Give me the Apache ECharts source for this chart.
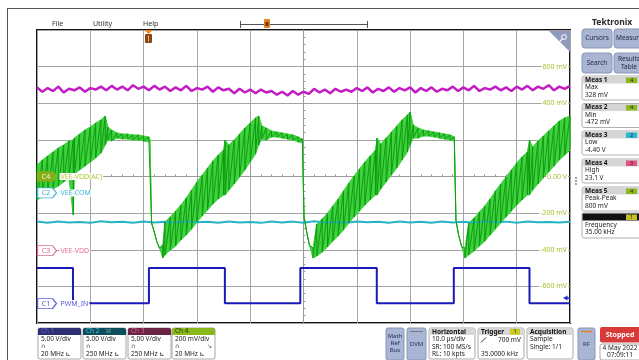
<!DOCTYPE html>
<html>
<head>
<meta charset="utf-8">
<script src="https://cdn.jsdelivr.net/npm/echarts@6.0.0/dist/echarts.min.js"></script>
<style>
html,body{margin:0;padding:0;background:#fff;}
#main{width:639px;height:360px;}
</style>
</head>
<body>
<div id="main"></div>
<script>
// ch4 VEE-VDD(AC) in mV: upper and lower edge of the noisy band, time in us
var greenT = [0,1,2,3,4,5,6,6.8,7,8,9,10,11,12,12.8,13.3,14,15,16,17,18,19,20,21,21.2,21.5,22,22.5,23,23.6,
  24,25,26,27,28,29,30,31,32,33,34,35,35.3,36,37,38,39,40,41,41.6,42.2,43,44,45,46,47,48,49,49.8,50.1,50.6,51.1,51.8,
  52.5,53.5,54.5,55.5,56.5,57.5,58.5,59.5,60.5,61.5,62.5,63.5,63.8,64.5,65.5,66.5,67.5,68.5,69.5,70,70.6,71.5,72.5,73.5,74.5,75.5,76.5,77.5,78.3,78.6,79.1,79.7,80.3,
  81,82,83,84,85,86,87,88,89,90,91,92,92.4,93,94,95,96,97,98,99,100];
var greenHi = [63,90,112,134,156,172,194,199,210,232,254,270,292,309,330,270,254,238,232,232,227,227,221,216,199,-254,-303,-358,-391,-374,
  -249,-221,-189,-156,-117,-74,-30,8,46,85,117,145,199,172,199,232,265,292,320,330,276,265,249,243,238,232,227,216,205,-221,-303,-374,-391,
  -260,-232,-200,-161,-123,-79,-36,3,41,79,112,145,210,178,210,243,276,309,336,352,281,265,254,249,243,238,232,227,216,-238,-320,-385,-391,
  -254,-227,-194,-161,-123,-79,-41,-3,36,74,107,134,199,161,194,221,249,276,303,320,330];
var greenLo = [-128,-112,-90,-68,-52,-30,-8,-210,14,36,57,79,101,128,172,199,194,210,205,205,199,199,194,189,199,-254,-303,-358,-391,-445,
  -429,-402,-380,-347,-320,-287,-249,-216,-183,-150,-123,-101,-101,-74,-41,-3,36,79,123,172,205,199,216,216,210,205,199,189,183,-221,-303,-374,-445,
  -434,-413,-385,-353,-325,-292,-254,-221,-189,-156,-128,-101,-101,-68,-30,8,46,90,134,172,210,210,221,221,216,210,205,199,194,-238,-320,-385,-445,
  -429,-407,-380,-353,-320,-287,-254,-221,-189,-156,-128,-101,-101,-74,-41,-8,25,57,90,117,145];

// ch3 VEE-VDD in V, one sample every us
var ch3Step = 1;
var ch3V = [22.3,21.7,22.2,21.8,22.4,21.6,22.1,21.9,22.3,21.7,22.2,22.0,22.4,
  21.9,22.5,22.0,22.4,21.9,22.6,22.1,22.4,21.9,22.5,22.0,
  22.4,21.8,22.3,21.9,22.5,21.8,22.2,22.0,22.4,21.7,22.3,21.9,22.1,
  21.5,22.1,21.6,22.0,21.5,22.0,21.6,
  21.8,21.3,21.7,21.2,21.8,21.3,21.7,21.4,
  22.1,21.6,22.0,21.5,22.1,21.7,22.0,
  21.7,22.2,21.8,22.3,21.6,22.1,21.8,22.3,21.7,22.2,21.9,22.3,21.6,22.2,21.8,22.3,21.7,22.1,21.9,
  22.4,21.8,22.3,21.9,22.5,21.8,22.2,22.0,22.4,21.9,22.3,21.8,22.4,
  22.0,22.5,21.9,22.4,22.1,22.6,21.9,22.4,22.1,22.5];

// ch2 VEE-COM in V, one sample every 2 us
var ch2Step = 2;
var ch2V = [-3.90,-4.05,-3.88,-4.02,-3.95,-4.08,-3.86,-4.00,-3.92,-4.06,
  -3.89,-4.03,-3.94,-4.07,-3.87,-4.01,-3.93,-4.05,-3.90,-4.04,
  -3.96,-4.08,-3.88,-4.02,-3.91,-4.06,-3.87,-4.03,-3.95,-4.05,
  -3.89,-4.01,-3.93,-4.07,-3.88,-4.04,-3.92,-4.06,-3.90,-4.02,
  -3.94,-4.08,-3.87,-4.03,-3.91,-4.05,-3.89,-4.01,-3.95,-4.04,-3.92];

// ch1 PWM_IN in V
var pwmT = [0,6.75,6.75,21.0,21.0,35.25,35.25,49.4,49.4,63.75,63.75,78.2,78.2,92.4,92.4,100];
var pwmV = [4.85,4.85,0.05,0.05,4.85,4.85,0.05,0.05,4.85,4.85,0.05,0.05,4.85,4.85,0.05,0.05];

var ch4Ticks = [-600,-400,-200,0,200,400,600];
var ch4TickText = ['-600 mV','-400 mV','-200 mV','0.00 V','200 mV','400 mV','600 mV'];

var measName = ['Meas 1','Meas 2','Meas 3','Meas 4','Meas 5'];
var measCh = ['4','4','2','3','4'];
var measType = ['Max','Min','Low','High','Peak-Peak'];
var measVal = ['328 mV','-472 mV','-4.40 V','23.1 V','800 mV'];

var chTitle = ['Ch 1','Ch 2','Ch 3','Ch 4'];
var chScale = ['5.00 V/div','5.00 V/div','5.00 V/div','200 mV/div'];
var chBw = ['20 MHz','250 MHz','250 MHz','20 MHz'];

var FONT = '"Noto Sans", "DejaVu Sans", sans-serif';
var chart = echarts.init(document.getElementById('main'));

var bandData = [], teeth = [];
for (var i = 0; i < greenT.length; i++) {
  bandData.push([greenT[i], greenHi[i], greenLo[i]]);
  teeth.push([greenT[i], greenHi[i]]);
  teeth.push([greenT[i], greenLo[i]]);
}
var ch3Data = ch3V.map(function(v, i){ return [i * ch3Step, v]; });
var ch2Data = ch2V.map(function(v, i){ return [i * ch2Step, v]; });
var pwmData = pwmT.map(function(t, i){ return [t, pwmV[i]]; });

// the whole envelope as one polygon: upper edge forward, lower edge back
function renderBand(params, api) {
  if (params.dataIndex !== 0) return null;
  var pts = [];
  for (var k = 0; k < greenT.length; k++) pts.push(api.coord([greenT[k], greenHi[k]]));
  for (var k2 = greenT.length - 1; k2 >= 0; k2--) pts.push(api.coord([greenT[k2], greenLo[k2]]));
  return {type: 'polygon', shape: {points: pts}, style: {fill: '#3ed23e', stroke: '#3ed23e', lineWidth: 1}};
}

function badge(tag, name, col, fill, tagCol, nameCol) {
  return {
    silent: true,
    animation: false,
    data: [
      {coord: [0, 0], symbol: 'path://M0 0H15L19 5L15 10H0Z', symbolSize: [19, 10], symbolOffset: [10, 0],
        itemStyle: {color: fill, borderColor: col, borderWidth: 1},
        label: {show: true, position: 'inside', formatter: tag, color: tagCol, fontSize: 7, fontFamily: FONT, offset: [-1, 0]}},
      {coord: [0, 0], symbol: 'rect', symbolSize: [1, 1], itemStyle: {color: 'rgba(0,0,0,0)'},
        label: {show: true, position: 'right', distance: 22, formatter: name, color: nameCol, fontSize: 7, fontFamily: FONT,
          backgroundColor: '#fff', padding: [0, 1]}}
    ]
  };
}

function T(x, y, s, size, color, bold, align) {
  return {type: 'text', x: x, y: y, z: 101, silent: true,
    style: {text: s, fill: color || '#222', font: (bold ? 'bold ' : '') + (size || 6.5) + 'px ' + FONT,
      align: align || 'left', verticalAlign: 'middle'}};
}
function R(x, y, w, h, fill, stroke, r) {
  return {type: 'rect', z: 100, silent: true, shape: {x: x, y: y, width: w, height: h, r: r || 0},
    style: {fill: fill || 'none', stroke: stroke || 'none', lineWidth: stroke ? 1 : 0}};
}
function L(x1, y1, x2, y2, color, w) {
  return {type: 'line', z: 100, silent: true, shape: {x1: x1, y1: y1, x2: x2, y2: y2},
    style: {stroke: color, lineWidth: w || 1}};
}
function P(pts, fill) {
  return {type: 'polygon', z: 100, silent: true, shape: {points: pts}, style: {fill: fill}};
}

var ui = [
  L(7, 8.5, 639, 8.5, '#555', 1),
  L(7.5, 8, 7.5, 360, '#555', 1),
  T(52, 24, 'File', 7, '#333'),
  T(93, 24, 'Utility', 7, '#333'),
  T(143, 24, 'Help', 7, '#333'),
  L(240, 24.5, 368, 24.5, '#555', 1),
  L(240.5, 21, 240.5, 28, '#555', 1),
  L(367.5, 21, 367.5, 28, '#555', 1),
  R(264, 19, 6, 9, '#e8801c', null, 1),
  R(265.5, 22, 3, 4, '#6b3a12'),
  P([[144, 30], [153, 30], [148.5, 34]], '#f08a1e'),
  R(145, 34, 7, 9, '#8a4512', null, 1),
  L(148.5, 35.5, 148.5, 41.5, '#f2b070', 1),
  T(592, 23, 'Tektronix', 8.5, '#2b2b2b', true),
  P([[549, 31], [570, 31], [570, 52]], '#8e9bbd'),
  {type: 'circle', z: 101, silent: true, shape: {cx: 564, cy: 37, r: 2.4}, style: {fill: 'none', stroke: '#fff', lineWidth: 1}},
  L(562.3, 38.8, 559.5, 41.8, '#fff', 1.2),
  R(582, 29, 30, 19, '#aab5d3', '#8995b4', 3), T(597, 38.5, 'Cursors', 6.5, '#1e2540', false, 'center'),
  R(614, 29, 30, 19, '#aab5d3', '#8995b4', 3), T(616, 38.5, 'Measure', 6.5, '#1e2540'),
  R(582, 53, 30, 20, '#aab5d3', '#8995b4', 3), T(597, 63, 'Search', 6.5, '#1e2540', false, 'center'),
  R(614, 53, 30, 20, '#aab5d3', '#8995b4', 3), T(629, 59, 'Results', 6.5, '#1e2540', false, 'center'),
  T(629, 67, 'Table', 6.5, '#1e2540', false, 'center'),
  {type: 'circle', z: 101, silent: true, shape: {cx: 576, cy: 178, r: 0.8}, style: {fill: '#333'}},
  {type: 'circle', z: 101, silent: true, shape: {cx: 576, cy: 181, r: 0.8}, style: {fill: '#333'}},
  {type: 'circle', z: 101, silent: true, shape: {cx: 576, cy: 184, r: 0.8}, style: {fill: '#333'}},
  P([[563, 298], [567.5, 295.5], [567.5, 300.5]], '#2b2bd0'),
  L(567, 298, 570, 298, '#2b2bd0', 1.5)
];

var chCol = {'1': '#c8c020', '2': '#2cb8d4', '3': '#e0507e', '4': '#8cb820'};
var measTop = [76, 103.5, 131, 159, 187];
for (var m = 0; m < measName.length; m++) {
  var cardTop = measTop[m];
  ui.push(R(582, cardTop, 60, 24, '#fff', '#b0b0b0', 2));
  ui.push(R(582.5, cardTop + 0.5, 59, 7, '#d5d5d5'));
  ui.push(T(585, cardTop + 4, measName[m], 6.5, '#111', true));
  ui.push(R(626, cardTop + 1.5, 11, 5.5, chCol[measCh[m]]));
  ui.push(T(631.5, cardTop + 4.3, measCh[m], 5.5, '#222', false, 'center'));
  ui.push(T(585, cardTop + 11.5, measType[m], 6.5, '#222'));
  ui.push(T(585, cardTop + 19, measVal[m], 6.5, '#222'));
}
ui.push(R(582, 213, 60, 25, '#fff', '#b0b0b0', 2));
ui.push(R(582.5, 213.5, 59, 7, '#111'));
ui.push(R(626, 214.5, 11, 5.5, '#c8c020'));
ui.push(T(631.5, 217.3, '1', 5.5, '#222', false, 'center'));
ui.push(T(585, 225, 'Frequency', 6.5, '#222'));
ui.push(T(585, 232.5, '35.00 kHz', 6.5, '#222'));

var chHead = ['#2d2f72', '#0e4d5c', '#6b2346', '#88b81c'];
var chHeadTxt = ['#6066d8', '#40c8e0', '#e06090', '#26360a'];
var chLeft = [38, 83, 128, 172];
for (var c = 0; c < 4; c++) {
  var bx = chLeft[c];
  ui.push(R(bx, 328, 43, 31, '#fff', '#a8a8a8', 2));
  ui.push(R(bx, 328, 43, 7, chHead[c], null, [2, 2, 0, 0]));
  ui.push(T(bx + 3, 331.5, chTitle[c], 6.5, chHeadTxt[c]));
  ui.push(T(bx + 3, 339.5, chScale[c], 6.5, '#222'));
  ui.push(T(bx + 3, 346.5, '\u2229', 6, '#333'));
  ui.push(T(bx + 3, 354, chBw[c] + ' \u22BE', 6.5, '#222'));
}
ui.push(T(106, 331.5, 'SF', 5, '#7aa'));
ui.push(T(207, 346.5, '\u2198', 6, '#333'));

ui.push(R(386, 328, 18, 32, '#a9b5d5', '#8a96b6', 2));
ui.push(T(395, 336.5, 'Math', 6, '#25305a', false, 'center'));
ui.push(T(395, 343.5, 'Ref', 6, '#25305a', false, 'center'));
ui.push(T(395, 350.5, 'Bus', 6, '#25305a', false, 'center'));
ui.push(R(407, 328, 19, 32, '#a9b5d5', '#8a96b6', 2));
ui.push(L(410, 331.5, 423, 331.5, '#777', 1));
ui.push(T(416.5, 344, 'DVM', 6, '#25305a', false, 'center'));

ui.push(R(429, 328, 46, 31, '#fff', '#a8a8a8', 2));
ui.push(R(429.5, 328.5, 45, 6.5, '#d8d8d8'));
ui.push(T(432, 331.8, 'Horizontal', 6.5, '#111', true));
ui.push(T(432, 339.5, '10.0 \u00b5s/div', 6.5));
ui.push(T(432, 347, 'SR: 100 MS/s', 6.5));
ui.push(T(432, 354.5, 'RL: 10 kpts', 6.5));

ui.push(R(478, 328, 46, 31, '#fff', '#a8a8a8', 2));
ui.push(R(478.5, 328.5, 45, 6.5, '#d8d8d8'));
ui.push(T(481, 331.8, 'Trigger', 6.5, '#111', true));
ui.push(R(510, 328.8, 10, 5.8, '#c8c81e'));
ui.push(T(515, 331.8, '1', 5.5, '#222', false, 'center'));
ui.push(L(481, 342.5, 486, 337.5, '#333', 1));
ui.push(T(498, 340, '700 mV', 6.5));
ui.push(T(481, 354.5, '35.0000 kHz', 6.5));

ui.push(R(527, 328, 46, 31, '#fff', '#a8a8a8', 2));
ui.push(R(527.5, 328.5, 45, 6.5, '#d8d8d8'));
ui.push(T(530, 331.8, 'Acquisition', 6.5, '#111', true));
ui.push(T(530, 339.5, 'Sample', 6.5));
ui.push(T(530, 347, 'Single: 1/1', 6.5));

ui.push(R(578, 328, 17, 32, '#a9b5d5', '#8a96b6', 2));
ui.push(L(581, 331.5, 592, 331.5, '#e8801c', 1.5));
ui.push(T(586.5, 344, 'RF', 6, '#25305a', false, 'center'));
ui.push(R(600, 327, 42, 15.5, '#d83a3a', null, 2));
ui.push(T(620, 335, 'Stopped', 7, '#fff', true, 'center'));
ui.push(R(600, 344, 42, 16, '#fff', '#a8a8a8', 2));
ui.push(T(620, 348.5, '4 May 2022', 6.5, '#222', false, 'center'));
ui.push(T(620, 355.5, '07:09:11', 6.5, '#222', false, 'center'));

var gridLine = {color: '#a4a4a4', width: 1};
var option = {
  animation: false,
  backgroundColor: '#fff',
  textStyle: {fontFamily: FONT},
  grid: {left: 37, top: 30, width: 533, height: 293, show: true, backgroundColor: '#fff',
    borderColor: '#111', borderWidth: 2},
  xAxis: [{
    type: 'value', min: 0, max: 100, interval: 10,
    axisLine: {show: true, onZero: true, onZeroAxisIndex: 0, lineStyle: {color: '#999'}},
    axisTick: {show: true, inside: true, length: 3, lineStyle: {color: '#999'}},
    minorTick: {show: true, splitNumber: 5, length: 2, lineStyle: {color: '#999'}},
    axisLabel: {show: false},
    splitLine: {show: true, lineStyle: gridLine}
  }, {
    type: 'value', min: -50, max: 50, show: false, axisLine: {onZero: false}
  }],
  yAxis: [{
    type: 'value', min: -800, max: 800, interval: 200,
    axisLine: {show: true, onZero: true, onZeroAxisIndex: 1, lineStyle: {color: '#999'}},
    axisTick: {show: true, inside: true, length: 3, lineStyle: {color: '#999'}},
    minorTick: {show: true, splitNumber: 5, length: 2, lineStyle: {color: '#999'}},
    axisLabel: {show: false},
    splitLine: {show: true, lineStyle: gridLine}
  }, {
    type: 'value', position: 'right', min: -800, max: 800, interval: 200,
    axisLine: {show: false, onZero: false}, axisTick: {show: false}, splitLine: {show: false},
    axisLabel: {inside: true, margin: 2, fontSize: 7, color: '#a6c034', backgroundColor: '#fff', padding: [0, 1],
      formatter: function(v){ var k = ch4Ticks.indexOf(v); return k < 0 ? '' : ch4TickText[k]; }}
  }, {
    type: 'value', min: -2.66, max: 37.34, show: false, axisLine: {onZero: false}
  }, {
    type: 'value', min: -17.75, max: 22.25, show: false, axisLine: {onZero: false}
  }, {
    type: 'value', min: -9.87, max: 30.13, show: false, axisLine: {onZero: false}
  }],
  graphic: {elements: ui},
  series: [{
    name: 'VEE-COM', type: 'line', yAxisIndex: 3, data: ch2Data, symbol: 'none', silent: true,
    lineStyle: {color: '#24b4c6', width: 2},
    markPoint: badge('C2', 'VEE-COM', '#3ab8d8', '#fff', '#2aaed0', '#35b8d6')
  }, {
    name: 'VEE-VDD', type: 'line', yAxisIndex: 4, data: ch3Data, symbol: 'none', silent: true,
    lineStyle: {color: '#c21cc2', width: 2.5},
    markPoint: badge('C3', 'VEE-VDD', '#e07090', '#fff', '#de6088', '#e0708c')
  }, {
    name: 'PWM_IN', type: 'line', yAxisIndex: 2, data: pwmData, symbol: 'none', silent: true,
    lineStyle: {color: '#1a1ab8', width: 2},
    markPoint: badge('C1', 'PWM_IN', '#5a5ad8', '#fff', '#4c4cd0', '#5a5ae0')
  }, {
    name: 'band', type: 'custom', yAxisIndex: 0, data: bandData, silent: true, clip: true,
    encode: {x: 0, y: [1, 2]},
    renderItem: renderBand
  }, {
    name: 'VEE-VDD(AC)', type: 'line', yAxisIndex: 0, data: teeth, symbol: 'none', silent: true,
    lineStyle: {color: '#109a10', width: 1},
    markPoint: badge('C4', 'VEE-VDD(AC)', '#86b018', '#86b018', '#f0f6d8', '#b2c63a')
  }]
};
chart.setOption(option);
</script>
</body>
</html>
